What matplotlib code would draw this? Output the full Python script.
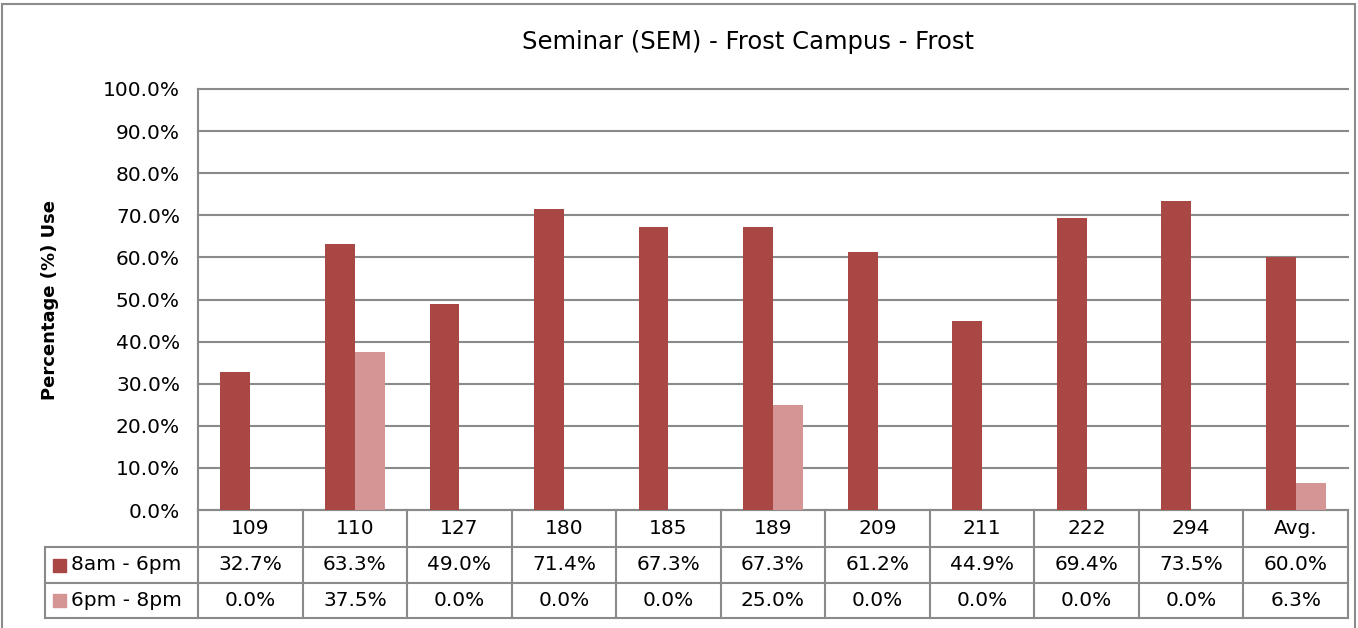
import numpy as np
import matplotlib
matplotlib.use("Agg")
import matplotlib.pyplot as plt
from matplotlib.patches import Rectangle
import matplotlib.transforms as mtrans

rooms = ["109", "110", "127", "180", "185", "189", "209", "211", "222", "294", "Avg."]
day = [32.7, 63.3, 49.0, 71.4, 67.3, 67.3, 61.2, 44.9, 69.4, 73.5, 60.0]
evening = [0.0, 37.5, 0.0, 0.0, 0.0, 25.0, 0.0, 0.0, 0.0, 0.0, 6.3]
series_names = ["8am - 6pm", "6pm - 8pm"]
colors = ["#A94744", "#D59594"]
grid_c = "#8A8A8A"

W, H = 1358, 628
plt.rcParams['font.family'] = ['DejaVu Sans']
fig = plt.figure(figsize=(W / 100, H / 100), dpi=100)

# outer frame
fig.patches.append(Rectangle((2 / W, -0.1), (1355 - 2) / W, 1.1 - 4 / H,
                             transform=fig.transFigure, fill=False,
                             edgecolor="#8C8C8C", lw=1.5))

left, right, top, bot = 198, 1348, 89, 510
ax = fig.add_axes([left / W, 1 - bot / H, (right - left) / W, (bot - top) / H])

x = np.arange(len(rooms))
bw = 0.285
ax.bar(x - bw / 2, day, bw, color=colors[0], zorder=3)
ax.bar(x + bw / 2, evening, bw, color=colors[1], zorder=3)

ax.set_xlim(-0.5, len(rooms) - 0.5)
ax.set_ylim(0, 100)
ax.set_yticks(np.arange(0, 101, 10))
ax.set_yticklabels([f"{v:.1f}%" for v in np.arange(0, 101, 10)], fontsize=14.5)
ax.tick_params(axis="y", length=0, pad=13)
ax.set_xticks([])
ax.yaxis.grid(True, color=grid_c, lw=1.5, zorder=0)
for gl in ax.get_ygridlines():
    gl.set_clip_on(False)
for s in ["top", "right", "bottom"]:
    ax.spines[s].set_visible(False)
ax.spines["left"].set_color(grid_c)
ax.spines["left"].set_linewidth(1.5)

fig.text(748 / W, 1 - 42 / H, "Seminar (SEM) - Frost Campus - Frost",
         ha="center", va="center", fontsize=17.5)
fig.text(50 / W, 1 - 300 / H, "Percentage (%) Use", rotation=90,
         ha="center", va="center", fontsize=13, fontweight="bold")

# data table below the axes, y in axes fraction
tr = mtrans.blended_transform_factory(ax.transData, ax.transAxes)
ph = bot - top
def yf(py):
    return (bot - py) / ph

rows = [510, 547, 583, 618]
x0, x1 = -0.5, len(rooms) - 0.5
leg_left = x0 - (left - 45) / ((right - left) / len(rooms))
lk = dict(color=grid_c, lw=1.5, clip_on=False, transform=tr)
# horizontal lines
ax.plot([x0, x1], [yf(rows[0])] * 2, **lk)
for r in rows[1:]:
    ax.plot([leg_left, x1], [yf(r)] * 2, **lk)
# vertical lines
for i in range(len(rooms) + 1):
    ax.plot([x0 + i, x0 + i], [yf(rows[0]), yf(rows[3])], **lk)
ax.plot([leg_left, leg_left], [yf(rows[1]), yf(rows[3])], **lk)

tk = dict(transform=tr, ha="center", va="center", fontsize=14.5, clip_on=False)
for i, room in enumerate(rooms):
    ax.text(i, yf((rows[0] + rows[1]) / 2), room, **tk)
    ax.text(i, yf((rows[1] + rows[2]) / 2), f"{day[i]:.1f}%", **tk)
    ax.text(i, yf((rows[2] + rows[3]) / 2), f"{evening[i]:.1f}%", **tk)

for k, name in enumerate(series_names):
    cy = (rows[k + 1] + rows[k + 2]) / 2
    fig.patches.append(Rectangle((53 / W, 1 - (cy + 6.5) / H), 13 / W, 13 / H,
                                 transform=fig.transFigure, color=colors[k]))
    fig.text(71 / W, 1 - cy / H, name, ha="left", va="center", fontsize=14.5)

fig.savefig("out.png", dpi=100)
